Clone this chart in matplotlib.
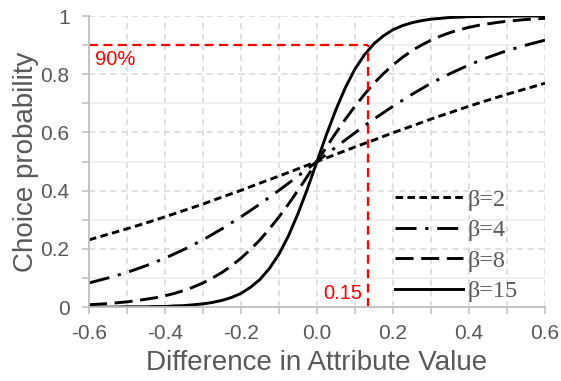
import matplotlib
matplotlib.use("Agg")
import matplotlib.pyplot as plt
from matplotlib.ticker import MultipleLocator, FixedLocator, FixedFormatter

# differenza di valore dell'attributo (asse x)
x_coarse = [-0.6, -0.55, -0.5, -0.45, -0.4, -0.35, -0.3, -0.25, -0.2, -0.15, -0.1, -0.05, 0.0,
            0.05, 0.1, 0.15, 0.2, 0.25, 0.3, 0.35, 0.4, 0.45, 0.5, 0.55, 0.6]
x_fine = [-0.6, -0.575, -0.55, -0.525, -0.5, -0.475, -0.45, -0.425, -0.4, -0.375, -0.35, -0.325,
          -0.3, -0.275, -0.25, -0.225, -0.2, -0.175, -0.15, -0.125, -0.1, -0.075, -0.05, -0.025,
          0.0, 0.025, 0.05, 0.075, 0.1, 0.125, 0.15, 0.175, 0.2, 0.225, 0.25, 0.275, 0.3, 0.325,
          0.35, 0.375, 0.4, 0.425, 0.45, 0.475, 0.5, 0.525, 0.55, 0.575, 0.6]

# probabilita' di scelta
p_beta2 = [0.231, 0.250, 0.269, 0.289, 0.310, 0.332, 0.354, 0.378, 0.401, 0.426, 0.450, 0.475, 0.500,
           0.525, 0.550, 0.574, 0.599, 0.622, 0.646, 0.668, 0.690, 0.711, 0.731, 0.750, 0.769]
p_beta4 = [0.083, 0.100, 0.119, 0.142, 0.168, 0.198, 0.231, 0.269, 0.310, 0.354, 0.401, 0.450, 0.500,
           0.550, 0.599, 0.646, 0.690, 0.731, 0.769, 0.802, 0.832, 0.858, 0.881, 0.900, 0.917]
p_beta8 = [0.008, 0.010, 0.012, 0.015, 0.018, 0.022, 0.027, 0.032, 0.039, 0.047, 0.057, 0.069,
           0.083, 0.100, 0.119, 0.142, 0.168, 0.198, 0.231, 0.269, 0.310, 0.354, 0.401, 0.450,
           0.500,
           0.550, 0.599, 0.646, 0.690, 0.731, 0.769, 0.802, 0.832, 0.858, 0.881, 0.900, 0.917,
           0.931, 0.943, 0.953, 0.961, 0.968, 0.973, 0.978, 0.982, 0.985, 0.988, 0.990, 0.992]
p_beta15 = [0.000, 0.000, 0.000, 0.000, 0.001, 0.001, 0.001, 0.002, 0.002, 0.004, 0.005, 0.008,
            0.011, 0.016, 0.023, 0.033, 0.047, 0.068, 0.095, 0.133, 0.182, 0.245, 0.321, 0.407,
            0.500,
            0.593, 0.679, 0.755, 0.818, 0.867, 0.905, 0.932, 0.953, 0.967, 0.977, 0.984, 0.989,
            0.992, 0.995, 0.996, 0.998, 0.998, 0.999, 0.999, 0.999, 1.000, 1.000, 1.000, 1.000]

labels = ["β=2", "β=4", "β=8", "β=15"]

# soglia 90% evidenziata in rosso
thr_x = 0.135
thr_y = 0.9

x_ticks = [-0.6, -0.4, -0.2, 0.0, 0.2, 0.4, 0.6]
x_ticklabels = ["-0.6", "-0.4", "-0.2", "0.0", "0.2", "0.4", "0.6"]
y_ticks = [0, 0.2, 0.4, 0.6, 0.8, 1.0]
y_ticklabels = ["0", "0.2", "0.4", "0.6", "0.8", "1"]

GREY_TEXT = "#595959"
GREY_AXIS = "#bfbfbf"

fig = plt.figure(figsize=(5.61, 3.81), dpi=100)
ax = fig.add_axes([0.1586, 0.194, 0.8129, 0.764])

# griglia: verticali tratteggiate ogni 0.1, orizzontali tratteggiate ogni 0.2 e continue in mezzo
ax.set_axisbelow(True)
ax.xaxis.set_major_locator(FixedLocator(x_ticks))
ax.xaxis.set_major_formatter(FixedFormatter(x_ticklabels))
ax.xaxis.set_minor_locator(MultipleLocator(0.1))
ax.yaxis.set_major_locator(FixedLocator(y_ticks))
ax.yaxis.set_major_formatter(FixedFormatter(y_ticklabels))
ax.yaxis.set_minor_locator(MultipleLocator(0.1))
ax.grid(axis="x", which="both", color="#d9d9d9", linestyle=(0, (4, 3)), linewidth=1.1)
ax.grid(axis="y", which="major", color="#d9d9d9", linestyle=(0, (4, 3)), linewidth=1.1)
ax.grid(axis="y", which="minor", color="#ececec", linestyle="-", linewidth=1.1)

lw = 2.1
ax.plot(x_coarse, p_beta2, color="black", lw=lw, linestyle=(0, (2.6, 1.5)), label=labels[0])
ax.plot(x_coarse, p_beta4, color="black", lw=lw, linestyle=(0, (7.2, 3.0, 1.1, 3.0)), label=labels[1])
ax.plot(x_fine, p_beta8, color="black", lw=lw, linestyle=(0, (6.2, 2.6)), label=labels[2])
ax.plot(x_fine, p_beta15, color="black", lw=lw, linestyle="-", label=labels[3])

# linee rosse della soglia
ax.plot([-0.6, thr_x], [thr_y, thr_y], color="red", lw=1.6, linestyle=(0, (4, 2.5)), clip_on=False)
ax.plot([thr_x, thr_x], [0, thr_y], color="red", lw=1.6, linestyle=(0, (4, 2.5)), clip_on=False)
ax.text(-0.585, 0.849, "90%", color="red", fontsize=14.5, family="Liberation Sans", va="center")
ax.text(0.118, 0.048, "0.15", color="red", fontsize=14.5, family="Liberation Sans",
        va="center", ha="right")

ax.set_xlim(-0.6, 0.6)
ax.set_ylim(0, 1)

for side in ["top", "right"]:
    ax.spines[side].set_visible(False)
for side in ["left", "bottom"]:
    ax.spines[side].set_color(GREY_AXIS)
    ax.spines[side].set_linewidth(1.3)

ax.tick_params(which="both", colors=GREY_AXIS, labelcolor=GREY_TEXT, width=1.1, length=5)
ax.tick_params(which="major", labelsize=15)
ax.tick_params(axis="x", which="major", pad=7)
ax.tick_params(axis="y", which="major", pad=9)
for lab in ax.get_xticklabels() + ax.get_yticklabels():
    lab.set_family("Liberation Sans")

ax.set_xlabel("Difference in Attribute Value", fontsize=20, color=GREY_TEXT,
              family="Liberation Sans", labelpad=5)
ax.set_ylabel("Choice probability", fontsize=20, color=GREY_TEXT,
              family="Liberation Sans", labelpad=1)

leg = ax.legend(loc="lower left", bbox_to_anchor=(0.66, 0.0), frameon=False,
                prop={"family": "Liberation Serif", "size": 17.5}, handlelength=2.8,
                handletextpad=0.2, labelspacing=0.35, borderpad=0.2, borderaxespad=0.0)
for t in leg.get_texts():
    t.set_color(GREY_TEXT)

fig.savefig("out.png", dpi=100)
